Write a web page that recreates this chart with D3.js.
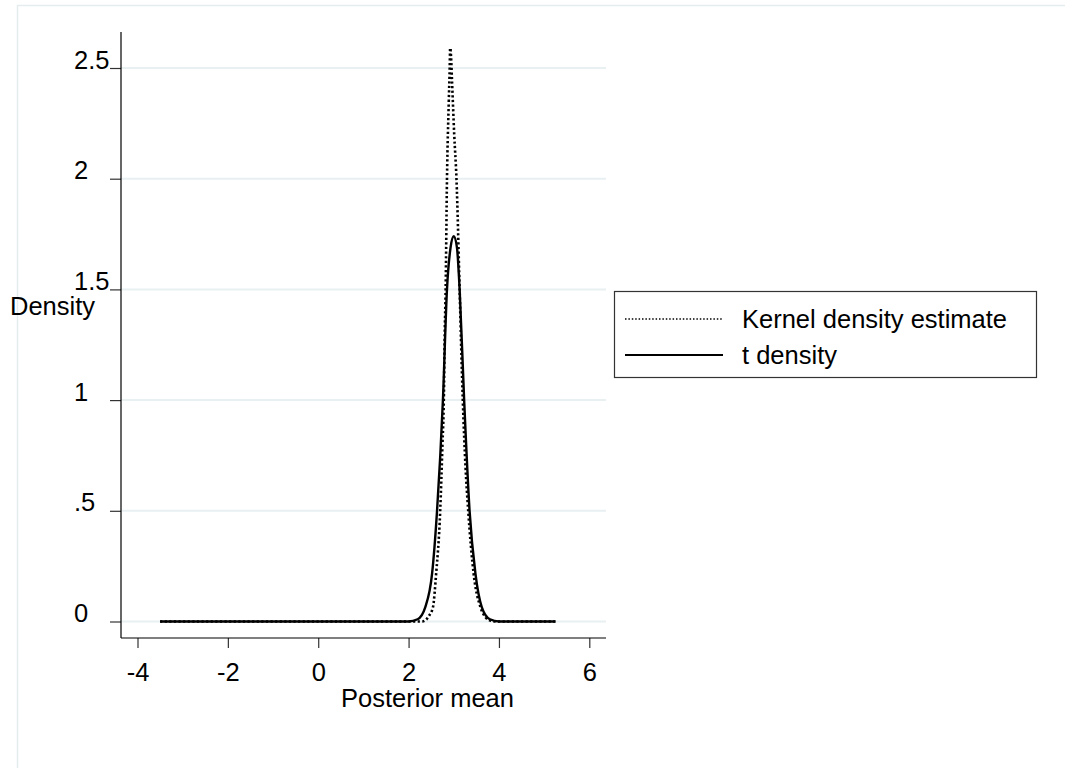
<!DOCTYPE html>
<html lang="en">
<head>
<meta charset="UTF-8">
<script src="https://d3js.org/d3.v7.min.js"></script>
<style>
  body { margin: 0; background: #fff; }
  text { font-family: "Liberation Sans", Arial, sans-serif; fill: #000; }
</style>
</head>
<body>
<div id="chart"></div>
<script>
// tick values / labels
const xTicks = [-4, -2, 0, 2, 4, 6];
const yTicks = [0, 0.5, 1, 1.5, 2, 2.5];
const yTickLabels = ["0", ".5", "1", "1.5", "2", "2.5"];

// kernel density estimate
const kdeX = [-3.5, 2.3, 2.37, 2.45, 2.54, 2.61, 2.70, 2.75, 2.78, 2.80, 2.82, 2.85, 2.89, 2.91, 2.92,
              2.94, 2.96, 3.01, 3.06, 3.13, 3.17, 3.20, 3.26, 3.32, 3.44, 3.59, 3.70, 3.82, 3.90, 5.25];
const kdeY = [0, 0, 0.005, 0.025, 0.065, 0.216, 0.5, 0.8, 1.0, 1.3, 1.5, 2.0, 2.35, 2.5, 2.59,
              2.55, 2.45, 2.2, 2.0, 1.5, 1.2, 1.0, 0.7, 0.5, 0.216, 0.065, 0.02, 0.003, 0, 0];

// t density
const tX = [-3.5, 2.0, 2.2, 2.37, 2.52, 2.63, 2.76, 2.85, 2.93, 3.0, 3.07, 3.13, 3.23, 3.35, 3.48, 3.62, 3.8, 4.0, 5.25];
const tY = [0, 0, 0.01, 0.065, 0.216, 0.5, 1.0, 1.5, 1.69, 1.74, 1.69, 1.5, 1.0, 0.5, 0.216, 0.065, 0.01, 0, 0];

const seriesNames = ["Kernel density estimate", "t density"];

const W = 1065, H = 768;
const plot = { left: 121, right: 606, top: 32, bottom: 638 };
const fs = 25.5;

const svg = d3.select("#chart").append("svg")
    .attr("width", W)
    .attr("height", H);

// faint outer frame
svg.append("rect")
    .attr("x", 17.5).attr("y", 5.5)
    .attr("width", 1100).attr("height", 800)
    .attr("fill", "none")
    .attr("stroke", "#e4ecee")
    .attr("stroke-width", 1.5);

const x = d3.scaleLinear().domain([-4, 6]).range([137.5, 589.3]);
const y = d3.scaleLinear().domain([0, 2.5]).range([621.5, 68]);

// grid lines
svg.append("g")
    .selectAll("line")
    .data(yTicks)
    .join("line")
    .attr("x1", plot.left).attr("x2", plot.right)
    .attr("y1", d => y(d)).attr("y2", d => y(d))
    .attr("stroke", "#e8f0f2")
    .attr("stroke-width", 2);

// y axis
const yAxis = svg.append("g")
    .attr("transform", `translate(${plot.left},0)`)
    .call(d3.axisLeft(y).tickValues(yTicks).tickSize(11).tickFormat((d, i) => yTickLabels[i]));
yAxis.select(".domain").remove();
yAxis.selectAll(".tick line").attr("stroke", "#333").attr("stroke-width", 1.2);
yAxis.selectAll(".tick text")
    .attr("font-size", fs)
    .attr("text-anchor", "start")
    .attr("x", -47)
    .attr("dy", 0);

svg.append("line")
    .attr("x1", plot.left).attr("x2", plot.left)
    .attr("y1", plot.top).attr("y2", plot.bottom)
    .attr("stroke", "#000").attr("stroke-width", 1.2);

// x axis
const xAxis = svg.append("g")
    .attr("transform", `translate(0,${plot.bottom})`)
    .call(d3.axisBottom(x).tickValues(xTicks).tickSize(10).tickFormat(d3.format("d")));
xAxis.select(".domain").remove();
xAxis.selectAll(".tick line").attr("stroke", "#333").attr("stroke-width", 1.2);
xAxis.selectAll(".tick text")
    .attr("font-size", fs)
    .attr("y", 43)
    .attr("dy", 0)
    .text(d => d < 0 ? "-" + Math.abs(d) : d);

svg.append("line")
    .attr("x1", plot.left).attr("x2", plot.right)
    .attr("y1", plot.bottom).attr("y2", plot.bottom)
    .attr("stroke", "#000").attr("stroke-width", 1.2);

// axis titles
svg.append("text")
    .attr("x", 10).attr("y", 315)
    .attr("font-size", fs)
    .text("Density");

svg.append("text")
    .attr("x", 427.5).attr("y", 707)
    .attr("font-size", fs)
    .attr("text-anchor", "middle")
    .text("Posterior mean");

// curves
const line = d3.line()
    .x(d => x(d[0]))
    .y(d => y(d[1]))
    .curve(d3.curveMonotoneX);

svg.append("path")
    .datum(tX.map((v, i) => [v, tY[i]]))
    .attr("d", line)
    .attr("fill", "none")
    .attr("stroke", "#000")
    .attr("stroke-width", 2.4);

svg.append("path")
    .datum(kdeX.map((v, i) => [v, kdeY[i]]))
    .attr("d", line)
    .attr("fill", "none")
    .attr("stroke", "#000")
    .attr("stroke-width", 2.6)
    .attr("stroke-dasharray", "2.2,2.4");

// legend
const legend = svg.append("g");
legend.append("rect")
    .attr("x", 614.5).attr("y", 291.5)
    .attr("width", 422).attr("height", 86)
    .attr("fill", "#fff")
    .attr("stroke", "#333")
    .attr("stroke-width", 1.2);

const legendRows = seriesNames.map((name, i) => ({ name, i }));
legend.selectAll("line.sample")
    .data(legendRows)
    .join("line")
    .attr("class", "sample")
    .attr("x1", 625).attr("x2", 723)
    .attr("y1", d => 319 + d.i * 36).attr("y2", d => 319 + d.i * 36)
    .attr("stroke", "#000")
    .attr("stroke-width", d => d.i === 0 ? 1.6 : 2.2)
    .attr("stroke-dasharray", d => d.i === 0 ? "1.5,1.9" : null);

legend.selectAll("text")
    .data(legendRows)
    .join("text")
    .attr("x", 742)
    .attr("y", d => 328 + d.i * 36)
    .attr("font-size", fs)
    .text(d => d.name);
</script>
</body>
</html>
